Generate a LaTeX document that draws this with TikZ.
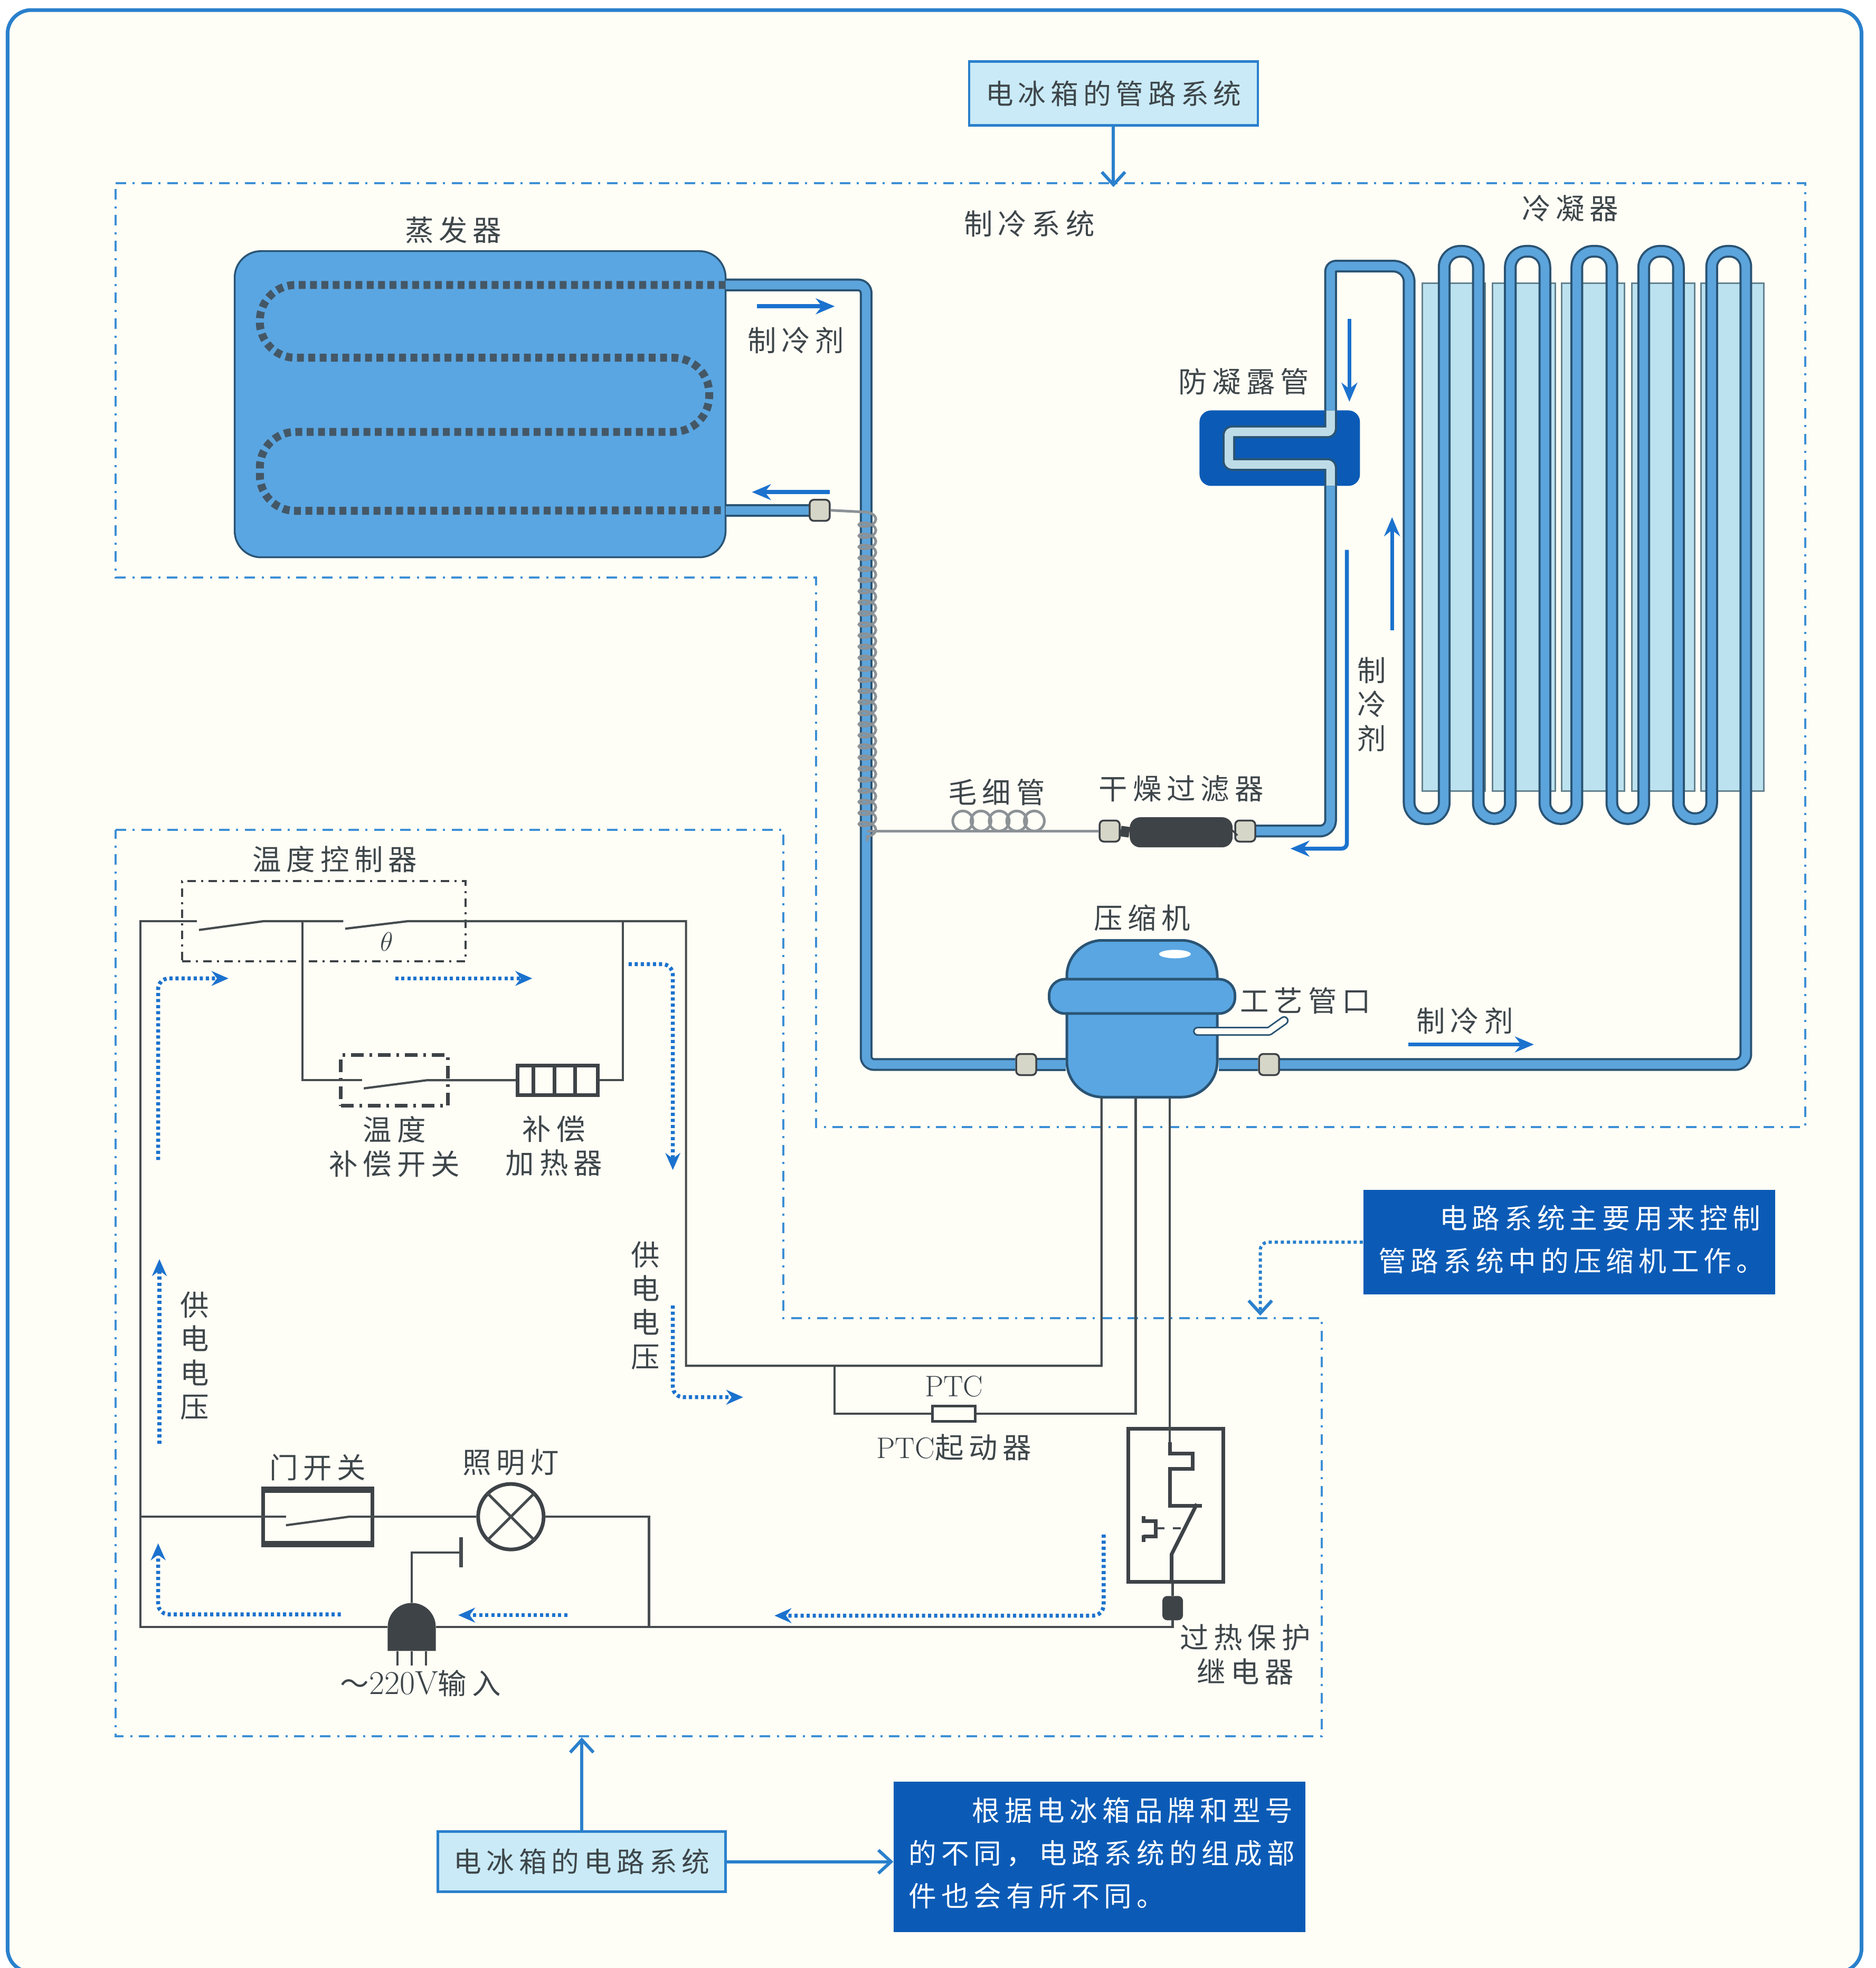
\documentclass[tikz,border=0pt]{standalone}
\usepackage{fontspec}
\usepackage{xcolor}
\usepackage{amsmath}
\usepackage{tikz}
\usetikzlibrary{arrows.meta, positioning, calc, shapes.geometric, shapes.misc, decorations.pathmorphing}
\newfontfamily\cjk[LetterSpace=17]{Noto Sans CJK SC}
\newfontfamily\cjkwide[LetterSpace=18]{Noto Sans CJK SC}
\definecolor{colPaper}{RGB}{255,254,246}
\definecolor{colFrame}{RGB}{42,128,204}
\definecolor{colRegion}{RGB}{60,143,214}
\definecolor{colPipe}{RGB}{92,164,220}
\definecolor{colPipeEdge}{RGB}{42,84,116}
\definecolor{colDew}{RGB}{190,220,232}
\definecolor{colEvap}{RGB}{90,166,226}
\definecolor{colPanel}{RGB}{188,226,240}
\definecolor{colPanelEdge}{RGB}{100,130,142}
\definecolor{colNote}{RGB}{11,91,182}
\definecolor{colBox}{RGB}{201,234,246}
\definecolor{colFlow}{RGB}{27,114,206}
\definecolor{colWire}{RGB}{70,76,78}
\definecolor{colDark}{RGB}{62,67,71}
\definecolor{colText}{RGB}{62,70,74}
\definecolor{colCap}{RGB}{140,146,150}
\definecolor{colFit}{RGB}{214,214,200}
\newcommand{\labfont}{\fontsize{15.5}{18.3}\selectfont\cjkwide}
\newcommand{\boxfont}{\fontsize{15}{18}\selectfont\cjk}
\newcommand{\notefont}{\fontsize{15}{23}\selectfont\cjk}
\tikzset{
  lab/.style={font=\labfont, text=colText, align=center, inner sep=0pt},
  labelbox/.style={draw=colFrame, line width=0.45mm, fill=colBox, font=\boxfont, text=colText, inner sep=0pt},
  notebox/.style={fill=colNote, font=\notefont, text=white, align=left, inner sep=2.85mm, text width=72.3mm, minimum width=78mm},
  regionline/.style={draw=colRegion, line width=0.4mm, dash pattern=on 2mm off 1.2mm on 0.4mm off 1.3mm},
  pipe/.style={draw=colPipeEdge, line width=0.4mm, double=colPipe, double distance=1.62mm, line join=round},
  dewpipe/.style={pipe, double=colDew},
  capline/.style={draw=colCap, line width=0.5mm},
  fitting/.style={draw=colDark, line width=0.35mm, fill=colFit, rounded corners=0.8mm, minimum width=3.8mm, minimum height=4mm, inner sep=0pt},
  wire/.style={draw=colWire, line width=0.42mm},
  symbol/.style={draw=colDark, line width=0.7mm, inner sep=0pt},
  ctrlline/.style={draw=colDark, line width=0.35mm, dash pattern=on 1.6mm off 1mm on 0.4mm off 1mm},
  flowarr/.style={draw=colFlow, line width=0.75mm, -{Stealth[length=3.6mm,width=3mm]}},
  flowdot/.style={draw=colFlow, line width=0.75mm, dash pattern=on 0.6mm off 0.55mm, rounded corners=2mm, -{Stealth[length=3.2mm,width=2.8mm]}},
  openarr/.style={draw=colFrame, line width=0.6mm, -{Straight Barb[length=2.4mm,width=4.4mm]}},
}

\begin{document}
\begin{tikzpicture}[x=0.2378mm, y=-0.2378mm]
\path[use as bounding box] (0,0) rectangle (1494.2,1567.7);
\clip (0,0) rectangle (1494.2,1567.7);
\fill[white] (0,0) rectangle (1494.2,1567.7);
\draw[colFrame, line width=0.7mm, fill=colPaper, rounded corners=4.5mm] (6,8) rectangle (1483,1571);

% ── Regions ─────────────────────────────────────────────────────────────────
\draw[regionline] (92,146) -- (1438,146) -- (1438,898) -- (650,898) -- (650,460) -- (92,460) -- cycle;
\draw[regionline] (92,661) -- (624,661) -- (624,1050) -- (1053,1050) -- (1053,1383) -- (92,1383) -- cycle;

% ── Nodes ───────────────────────────────────────────────────────────────────
% Cooling side
\node[draw=colPipeEdge, line width=0.35mm, fill=colEvap, rounded corners=5mm, minimum width=93mm, minimum height=58mm] (evap) at (382.5,322) {};
\foreach \px [count=\i] in {1158,1214,1269,1325,1380}
  \node[draw=colPanelEdge, line width=0.3mm, fill=colPanel, minimum width=11.9mm, minimum height=96.2mm, inner sep=0pt] (panel\i) at (\px,428) {};
\node[fill=colNote, rounded corners=2.2mm, minimum width=30.4mm, minimum height=14.3mm] (dewBox) at (1019.5,357) {};
\node[fill=colDark, rounded corners=2mm, minimum width=19.5mm, minimum height=5.7mm, inner sep=0pt] (filter) at (941,663) {};
\node[fitting] (fitEvap) at (653,406.5) {};
\node[fitting] (fitFL) at (884,662) {};
\node[fitting] (fitFR) at (992,662) {};
\node[fitting] (fitCL) at (817.5,848) {};
\node[fitting] (fitCR) at (1011,848) {};

% Compressor
\node[draw=colPipeEdge, line width=0.5mm, fill=colEvap, rounded corners=6.8mm, minimum width=28.5mm, minimum height=29.7mm, inner sep=0pt] (compBody) at (909.8,811.5) {};
\node[draw=colPipeEdge, line width=0.5mm, fill=colEvap, rounded corners=3mm, minimum width=35.2mm, minimum height=6.5mm, inner sep=0pt] (compBand) at (909.8,793.7) {};
\node[ellipse, fill=white, minimum width=6mm, minimum height=1.6mm, inner sep=0pt] (compShine) at (936,760) {};

% Circuit side
\node[ctrlline, minimum width=53.7mm, minimum height=15.2mm, inner sep=0pt] (ctrlBox) at (258,733.8) {};
\node[draw=colDark, line width=0.7mm, dash pattern=on 2.4mm off 1.1mm on 0.5mm off 1.1mm, minimum width=20.3mm, minimum height=9.6mm, inner sep=0pt] (compSwitch) at (314.2,860.6) {};
\node[symbol, minimum width=15.2mm, minimum height=5.6mm] (heater) at (444.2,860.5) {};
\node[symbol, minimum width=20.7mm, minimum height=9.8mm] (doorSw) at (253,1208.2) {};
\node[symbol, circle, minimum size=12.4mm] (lamp) at (407,1208.2) {};
\node[symbol, line width=0.5mm, minimum width=8.1mm, minimum height=2.9mm] (ptc) at (760,1126) {};
\node[symbol, minimum width=18mm, minimum height=29mm] (relay) at (936.6,1198.9) {};
\node[symbol, fill=colDark, rounded corners=0.6mm, minimum width=3.2mm, minimum height=3.9mm] (relayPlug) at (934.2,1281) {};
\node[fill=colDark, rounded rectangle, rounded rectangle west arc=none, rotate=90, minimum width=9mm, minimum height=9.1mm, inner sep=0pt] (plug) at (328,1296) {};

% Boxes
\node[labelbox, minimum width=54.7mm, minimum height=12.1mm] (boxPipe) at (887,74.5) {电冰箱的管路系统};
\node[labelbox, minimum width=54.5mm, minimum height=11.4mm] (boxCircuit) at (463.5,1483) {电冰箱的电路系统};
\node[notebox, minimum height=19.3mm] (noteCtrl) at (1250,989.5) {\hspace*{11.6mm}电路系统主要用来控制\\管路系统中的压缩机工作。\par\vspace{1.1mm}};
\node[notebox, minimum height=28.5mm] (noteBrand) at (876,1479) {\hspace*{12mm}根据电冰箱品牌和型号\\的不同，电路系统的组成部\\件也会有所不同。\par\vspace{1.3mm}};

% Labels
\node[lab, above=1.2mm of evap, xshift=-5.1mm] (labEvap) {蒸发器};
\node[lab] (labCool) at (820,178) {制冷系统};
\node[lab] (labCond) at (1251,166) {冷凝器};
\node[lab] (labRefA) at (634,271) {制冷剂};
\node[lab, above=2.8mm of dewBox, xshift=-6.8mm] (labDew) {防凝露管};
\node[lab] (labRefB) at (1093,561) {制\\冷\\剂};
\node[lab] (labCap) at (794,631) {毛细管};
\node[lab, above=2.8mm of filter] (labFilter) {干燥过滤器};
\node[lab, above=1.4mm of compBody] (labComp) {压缩机};
\node[lab] (labPort) at (1040,797) {工艺管口};
\node[lab] (labRefC) at (1167,813) {制冷剂};
\node[lab, above=1.4mm of ctrlBox, xshift=2.1mm] (labCtrl) {温度控制器};
\node[lab, below=1.6mm of compSwitch] (labComSw) {温度\\补偿开关};
\node[lab, below=3.5mm of heater, xshift=-0.7mm] (labHeat) {补偿\\加热器};
\node[lab] (labVoltL) at (155,1080) {供\\电\\电\\压};
\node[lab] (labVoltR) at (514,1040) {供\\电\\电\\压};
\node[lab, above=1.4mm of ptc] (labPtc) {\rmfamily\fontsize{16}{18}\selectfont PTC};
\node[lab, below=2.1mm of ptc] (labStart) {{\rmfamily\fontsize{16}{18}\selectfont PTC}起动器};
\node[lab, above=1.5mm of doorSw] (labDoor) {门开关};
\node[lab, above=1.2mm of lamp] (labLamp) {照明灯};
\node[lab] (labIn) at (335,1341) {～{\rmfamily\fontsize{18}{18}\selectfont 220V}输入};
\node[lab] (labRelay) at (992,1318) {过热保护\\继电器};
\node[text=colText, inner sep=0pt, font=\fontsize{15}{15}\selectfont] (labTheta) at (308,750) {$\theta$};

% ── Junctions ───────────────────────────────────────────────────────────────
\coordinate (evapOut) at (578,227);
\coordinate (evapIn) at (578,406.5);
\coordinate (elbowA) at (690,227);
\coordinate (elbowB) at (690,848);
\coordinate (capTop) at (691,408);
\coordinate (capBot) at (691,662);
\coordinate (coilEnd) at (691,670);
\coordinate (condEnd) at (1390.8,848);
\coordinate (dewIn) at (1060,327);
\coordinate (dewOut) at (1060,387);
\coordinate (filterEnd) at (1060,662);
\coordinate (pinA) at (877.5,874.5);
\coordinate (pinB) at (904.7,874.5);
\coordinate (pinC) at (932,874.5);
\coordinate (jA) at (877.5,1088);
\coordinate (jPtc) at (665,1088);
\coordinate (jR) at (546.5,1088);
\coordinate (topR) at (546.5,733.8);
\coordinate (jH) at (496.3,733.8);
\coordinate (jL) at (241,733.8);
\coordinate (topL) at (112,733.8);
\coordinate (botL) at (112,1296);
\coordinate (midL) at (112,1208.2);
\coordinate (jLamp) at (517,1296);
\coordinate (gndBend) at (328,1236.7);
\coordinate (gndBar) at (367.4,1236.7);

% ── Pipes ───────────────────────────────────────────────────────────────────
% Serpentine behind the evaporator
\draw[draw=colDark!80!colEvap, line width=1.5mm, dash pattern=on 1.3mm off 0.85mm, rounded corners=6.8mm]
  (evapOut) -- (207,227) -- (207,285) -- (565,285) -- (565,344) -- (207,344) -- (207,407) -- (evapIn);

% Suction line
\draw[pipe, rounded corners=1.5mm] (evapOut) -- (elbowA) -- (elbowB) -- (fitCL.west);
\draw[pipe] (fitCL.east) -- (compBody.west |- fitCL);
\draw[pipe] (evapIn) -- (fitEvap.west);

% Condenser
\draw[pipe] (compBody.east |- fitCR) -- (fitCR.west);
\draw[pipe] (fitCR.east) [rounded corners=2mm] -- (condEnd) [rounded corners=3mm] -- (1390.8,200.2) -- (1363.6,200.2)
  -- (1363.6,652.1) -- (1337.1,652.1) -- (1337.1,200.2) -- (1309.5,200.2)
  -- (1309.5,652.1) -- (1284.1,652.1) -- (1284.1,200.2) -- (1256.2,200.2)
  -- (1256.2,652.1) -- (1230.7,652.1) -- (1230.7,200.2) -- (1203.2,200.2)
  -- (1203.2,652.1) -- (1177.7,652.1) -- (1177.7,200.2) -- (1150.5,200.2)
  -- (1150.5,652.1) -- (1122.6,652.1) [rounded corners=3mm] -- (1122.6,212) [rounded corners=1mm] -- (1060,212) -- (dewIn);

% Anti-condensation loop
\draw[dewpipe, rounded corners=0.6mm] (dewIn) -- (1060,344) -- (979,344) -- (979,370) -- (1060,370) -- (dewOut);
\draw[pipe, rounded corners=2mm] (dewOut) -- (filterEnd) -- (fitFR.east);

% Filter and capillary
\draw[draw=colDark, line width=2mm] (fitFL.east) -- (filter.west);
\draw[draw=colDark, line width=2mm] (filter.east) -- (fitFR.west);
\draw[capline] (fitEvap.east) -- (capTop);
\draw[capline, decorate, decoration={coil, aspect=0.5, segment length=2.1mm, amplitude=1.6mm}] (capTop) -- (coilEnd);
\draw[capline] (capBot) -- (fitFL.west);
\foreach \cx [count=\i] in {767,781.5,796,810,824}
  \node[circle, draw=colCap, line width=0.5mm, minimum size=3.8mm, inner sep=0pt] (ring\i) at (\cx,654) {};

% Process tube
\coordinate (portIn) at (954,821.5);
\coordinate (portBend) at (1011,821.5);
\coordinate (portEnd) at (1023,813);
\draw[draw=colPipeEdge, line width=0.3mm, double=colPaper, double distance=1.1mm, line cap=round, line join=round] (portIn) -- (portBend) -- (portEnd);

% ── Wires ───────────────────────────────────────────────────────────────────
\draw[wire] (pinA) -- (jA) -- (jPtc) -- (jR) -- (topR) -- (jH) -- (325,733.8) -- (275,739.8);
\draw[wire] (273.5,733.8) -- (jL) -- (210,733.8) -- (158.5,740.8);
\draw[wire] (157,733.8) -- (topL) -- (botL) -- (plug.north);
\draw[wire] (jL) -- (241,860.5) -- (288.3,860.5);
\draw[wire] (289.8,867) -- (340,860.5) -- (heater.west);
\draw[wire] (heater.east) -- (jH |- heater) -- (jH);
\draw[wire] (pinB) -- (pinB |- ptc) -- (ptc.east);
\draw[wire] (ptc.west) -- (jPtc |- ptc) -- (jPtc);
\draw[wire] (pinC) -- (932,1149);
\draw[wire] (midL) -- (227.8,1208.2);
\draw[wire] (227.8,1215) -- (278,1208.2) -- (doorSw.east) -- (lamp.west);
\draw[wire] (lamp.east) -- (jLamp |- lamp) -- (jLamp);
\draw[wire] (relayPlug.south) -- (934.2,1296) -- (jLamp) -- (plug.south);
\draw[wire] (relay.south -| relayPlug) -- (relayPlug.north);
\draw[wire] (plug.east) -- (gndBend) -- (gndBar);
\draw[wire, line width=0.65mm] ($(gndBar)+(0,-12)$) -- ($(gndBar)+(0,12)$);
\foreach \dx in {-11.5,0,11.5}
  \draw[wire] ($(plug.west)+(\dx,0)$) -- ++(0,11.5);

% Inside heater, door switch and lamp
\foreach \d in {14.2,31,47.2}
  \draw[symbol] ($(heater.south west)+(\d,0)$) -- ($(heater.north west)+(\d,0)$);
\draw[symbol, line width=1mm] (doorSw.north west) -- (doorSw.north east);
\draw[symbol, line width=1mm] (doorSw.south west) -- (doorSw.south east);
\draw[wire, line width=0.5mm] (lamp.45) -- (lamp.225);
\draw[wire, line width=0.5mm] (lamp.135) -- (lamp.315);

% Inside relay
\draw[symbol] (932,1149) -- (932,1157.9) -- (950.3,1157.9) -- (950.3,1170) -- (932,1170) -- (932,1199.7) -- (957.6,1199.7);
\draw[symbol] (953.5,1198) -- (933.4,1238) -- (933.4,1259.9);
\draw[symbol] (910.9,1207.6) -- (910.9,1213);
\draw[symbol] (910.9,1223) -- (910.9,1228.5);
\draw[symbol] (910.9,1211.9) -- (920.6,1211.9) -- (920.6,1224.1) -- (910.9,1224.1);
\draw[wire] (920.6,1217.5) -- (927.8,1217.5);
\draw[wire] (934.2,1217.5) -- (940.7,1217.5);

% ── Flow arrows ─────────────────────────────────────────────────────────────
\coordinate (flowA) at (603,244);    \coordinate (flowB) at (665,244);
\coordinate (flowC) at (661,392);    \coordinate (flowD) at (599,392);
\coordinate (flowE) at (1075,254);   \coordinate (flowF) at (1075,320);
\coordinate (flowG) at (1109,502);   \coordinate (flowH) at (1109,412);
\coordinate (flowI) at (1073,438);   \coordinate (flowJ) at (1073,676);   \coordinate (flowK) at (1028,676);
\coordinate (flowL) at (1122,832);   \coordinate (flowM) at (1222,832);
\draw[flowarr] (flowA) -- (flowB);
\draw[flowarr] (flowC) -- (flowD);
\draw[flowarr] (flowE) -- (flowF);
\draw[flowarr] (flowG) -- (flowH);
\draw[flowarr, rounded corners=1mm] (flowI) -- (flowJ) -- (flowK);
\draw[flowarr] (flowL) -- (flowM);

% ── Current arrows ──────────────────────────────────────────────────────────
\coordinate (curA) at (126,924);     \coordinate (curB) at (126,779.4);   \coordinate (curC) at (182,779.4);
\coordinate (curD) at (314.8,779.4); \coordinate (curE) at (424,779.4);
\coordinate (curF) at (500.8,768);   \coordinate (curG) at (536,768);     \coordinate (curH) at (536,932);
\coordinate (curI) at (536,1040);    \coordinate (curJ) at (536,1113);    \coordinate (curK) at (592,1113);
\coordinate (curL) at (127,1150);    \coordinate (curM) at (127,1003);
\coordinate (curN) at (271.5,1286);  \coordinate (curO) at (126,1286);    \coordinate (curP) at (126,1229.4);
\coordinate (curQ) at (452,1286.6);  \coordinate (curR) at (365,1286.6);
\coordinate (curS) at (879.2,1222.4); \coordinate (curT) at (879.2,1287); \coordinate (curU) at (617,1287);
\draw[flowdot] (curA) -- (curB) -- (curC);
\draw[flowdot] (curD) -- (curE);
\draw[flowdot] (curF) -- (curG) -- (curH);
\draw[flowdot] (curI) -- (curJ) -- (curK);
\draw[flowdot] (curL) -- (curM);
\draw[flowdot] (curN) -- (curO) -- (curP);
\draw[flowdot] (curQ) -- (curR);
\draw[flowdot] (curS) -- (curT) -- (curU);

% ── Box arrows ──────────────────────────────────────────────────────────────
\coordinate (pipeTip) at (887,149);
\coordinate (circuitTip) at (463.5,1384);
\coordinate (ctrlBend) at (1004,989.5);
\coordinate (ctrlTip) at (1004,1048);
\draw[openarr] (boxPipe.south) -- (pipeTip);
\draw[openarr] (boxCircuit.north) -- (circuitTip);
\draw[openarr] (boxCircuit.east) -- (boxCircuit.east -| noteBrand.west);
\draw[openarr, dash pattern=on 0.6mm off 0.55mm, rounded corners=1.5mm] (noteCtrl.west) -- (ctrlBend) -- (ctrlTip);

\end{tikzpicture}
\end{document}
